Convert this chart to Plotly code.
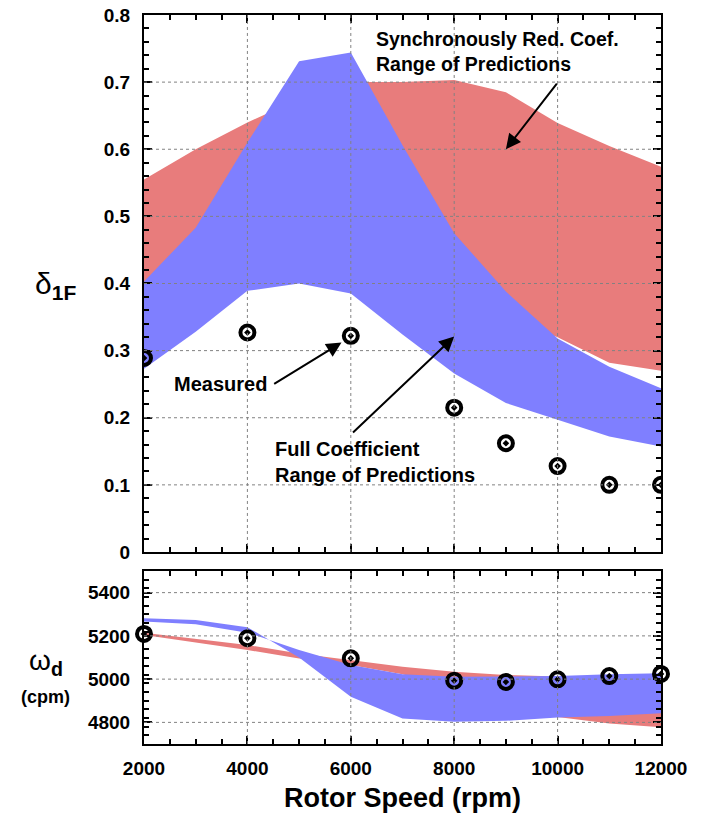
import plotly.graph_objects as go

# ---------------- data ----------------
speed = [2000, 3000, 4000, 5000, 6000, 7000, 8000, 9000, 10000, 11000, 12000]

# top panel: log decrement delta_1F
full_delta_hi = [0.403, 0.483, 0.610, 0.731, 0.744, 0.606, 0.475, 0.388, 0.318, 0.276, 0.244]
full_delta_lo = [0.273, 0.328, 0.389, 0.400, 0.385, 0.324, 0.266, 0.222, 0.197, 0.172, 0.157]
sync_delta_hi = [0.555, 0.600, 0.640, 0.675, 0.700, 0.700, 0.703, 0.685, 0.639, 0.605, 0.574]
sync_delta_lo = [0.300, 0.350, 0.390, 0.420, 0.390, 0.380, 0.370, 0.350, 0.320, 0.282, 0.270]

# bottom panel: damped natural frequency omega_d (cpm)
full_wd_a = [5281, 5274, 5240, 5100, 4919, 4818, 4803, 4807, 4823, 4829, 4842]
full_wd_b = [5266, 5254, 5215, 5135, 5065, 5022, 5011, 5011, 5014, 5022, 5027]
sync_wd_hi = [5215, 5188, 5158, 5118, 5088, 5057, 5034, 5019, 5012, 5005, 5000]
sync_wd_lo = [5204, 5170, 5135, 5095, 5065, 5022, 4950, 4880, 4825, 4795, 4777]

meas_speed = [2000, 4000, 6000, 8000, 9000, 10000, 11000, 12000]
meas_delta = [0.289, 0.327, 0.322, 0.215, 0.162, 0.128, 0.100, 0.100]
meas_wd = [5209, 5189, 5096, 4993, 4987, 4999, 5014, 5024]

x_ticks = [2000, 4000, 6000, 8000, 10000, 12000]
x_tick_labels = ["2000", "4000", "6000", "8000", "10000", "12000"]
delta_ticks = [0, 0.1, 0.2, 0.3, 0.4, 0.5, 0.6, 0.7, 0.8]
delta_tick_labels = ["0", "0.1", "0.2", "0.3", "0.4", "0.5", "0.6", "0.7", "0.8"]
wd_ticks = [4800, 5000, 5200, 5400]
wd_tick_labels = ["4800", "5000", "5200", "5400"]

# ---------------- style ----------------
RED = "rgb(232,124,124)"
BLUE = "rgb(127,127,255)"
FONT = "Liberation Sans, Arial, sans-serif"

fig = go.Figure()


def band(x, lo, hi, color, xa, ya):
    fig.add_trace(go.Scatter(x=x, y=lo, mode="lines", line=dict(width=0),
                             xaxis=xa, yaxis=ya, showlegend=False, hoverinfo="skip"))
    fig.add_trace(go.Scatter(x=x, y=hi, mode="lines", line=dict(width=0),
                             fill="tonexty", fillcolor=color,
                             xaxis=xa, yaxis=ya, showlegend=False, hoverinfo="skip"))


band(speed, sync_delta_lo, sync_delta_hi, RED, "x", "y")
band(speed, full_delta_lo, full_delta_hi, BLUE, "x", "y")
band(speed, sync_wd_lo, sync_wd_hi, RED, "x2", "y2")
band(speed, full_wd_a, full_wd_b, BLUE, "x2", "y2")

marker = dict(symbol="circle-open-dot", size=14, color="black",
              line=dict(width=4, color="black"))
fig.add_trace(go.Scatter(x=meas_speed, y=meas_delta, mode="markers", marker=marker,
                         xaxis="x", yaxis="y", showlegend=False, cliponaxis=True))
fig.add_trace(go.Scatter(x=meas_speed, y=meas_wd, mode="markers", marker=marker,
                         xaxis="x2", yaxis="y2", showlegend=False, cliponaxis=False))

# grid lines drawn above the filled bands
grid = dict(color="rgb(130,130,130)", width=1, dash="dot")
shapes = []
for xv in x_ticks[1:-1]:
    shapes.append(dict(type="line", layer="above", xref="x", yref="y domain",
                       x0=xv, x1=xv, y0=0, y1=1, line=grid))
    shapes.append(dict(type="line", layer="above", xref="x2", yref="y2 domain",
                       x0=xv, x1=xv, y0=0, y1=1, line=grid))
for yv in delta_ticks[1:-1]:
    shapes.append(dict(type="line", layer="above", xref="x domain", yref="y",
                       x0=0, x1=1, y0=yv, y1=yv, line=grid))
for yv in wd_ticks:
    shapes.append(dict(type="line", layer="above", xref="x2 domain", yref="y2",
                       x0=0, x1=1, y0=yv, y1=yv, line=grid))

axis_common = dict(showline=True, linewidth=2, linecolor="black", mirror="allticks",
                   ticks="inside", ticklen=8, tickwidth=2, tickcolor="black",
                   showgrid=False, zeroline=False, layer="above traces",
                   automargin=False,
                   tickfont=dict(family=FONT, size=19, color="black", weight=700))

fig.update_layout(
    width=705, height=816,
    margin=dict(l=144, r=44, t=15, b=72),
    paper_bgcolor="white", plot_bgcolor="white",
    showlegend=False,
    shapes=shapes,
    xaxis=dict(axis_common, domain=[0, 1], anchor="y", range=[2000, 12000],
               tickvals=x_ticks, showticklabels=False, matches="x2",
               minor=dict(dtick=500, tick0=2000, ticks="inside", ticklen=5,
                          tickwidth=1.5, tickcolor="black", showgrid=False)),
    yaxis=dict(axis_common, domain=[0.2634, 1], anchor="x", range=[0, 0.8],
               tickvals=delta_ticks, ticktext=delta_tick_labels, ticklabelstandoff=8,
               minor=dict(dtick=0.02, tick0=0, ticks="inside", ticklen=5,
                          tickwidth=1.5, tickcolor="black", showgrid=False)),
    xaxis2=dict(axis_common, domain=[0, 1], anchor="y2", range=[2000, 12000],
                tickvals=x_ticks, ticktext=x_tick_labels, ticklabelstandoff=6,
                minor=dict(dtick=500, tick0=2000, ticks="inside", ticklen=5,
                           tickwidth=1.5, tickcolor="black", showgrid=False)),
    yaxis2=dict(axis_common, domain=[0, 0.2373], anchor="x2", range=[4700, 5500],
                tickvals=wd_ticks, ticktext=wd_tick_labels, ticklabelstandoff=8,
                minor=dict(dtick=40, tick0=4700, ticks="inside", ticklen=5,
                           tickwidth=1.5, tickcolor="black", showgrid=False)),
)

ann_font = dict(family=FONT, size=20, color="black")
arrow = dict(showarrow=True, arrowhead=2, arrowsize=1.5, arrowwidth=2,
             arrowcolor="black", axref="x", ayref="y", xref="x", yref="y", text="")
annotations = [
    # axis titles
    dict(text="δ<sub><b>1F</b></sub>", xref="paper", yref="paper", x=-0.172, y=0.6296,
         xanchor="center", yanchor="middle", showarrow=False,
         font=dict(family=FONT, size=30, color="black")),
    dict(text="ω<sub><b>d</b></sub>", xref="paper", yref="paper", x=-0.19, y=0.112,
         xanchor="center", yanchor="middle", showarrow=False,
         font=dict(family=FONT, size=28, color="black")),
    dict(text="<b>(cpm)</b>", xref="paper", yref="paper", x=-0.19, y=0.0645,
         xanchor="center", yanchor="middle", showarrow=False,
         font=dict(family=FONT, size=18, color="black")),
    dict(text="<b>Rotor Speed (rpm)</b>", xref="paper", yref="paper", x=0.5, y=-0.074,
         xanchor="center", yanchor="middle", showarrow=False,
         font=dict(family=FONT, size=27, color="black")),
    # labels
    dict(text="<b>Synchronously Red. Coef.<br>Range of Predictions</b>", xref="x", yref="y",
         x=6440, y=0.7455, xanchor="left", yanchor="middle", align="left",
         showarrow=False, font=dict(family=FONT, size=19.5, color="black")),
    dict(text="<b>Measured</b>", xref="x", yref="y", x=3483, y=0.250,
         xanchor="center", yanchor="middle", showarrow=False, font=ann_font),
    dict(text="<b>Full Coefficient<br>Range of Predictions</b>", xref="x", yref="y",
         x=4490, y=0.1335, xanchor="left", yanchor="middle", align="left",
         showarrow=False, font=ann_font),
    # arrows
    dict(arrow, x=9000, y=0.600, ax=10008, ay=0.700),
    dict(arrow, x=5820, y=0.312, ax=4489, ay=0.249),
    dict(arrow, x=8000, y=0.321, ax=6014, ay=0.176),
]
fig.update_layout(annotations=annotations)

# remove the default page margin so the figure sits at the window's corner
fig.write_html("out.html", config={"displayModeBar": False},
               post_script="document.body.style.margin='0px';")
